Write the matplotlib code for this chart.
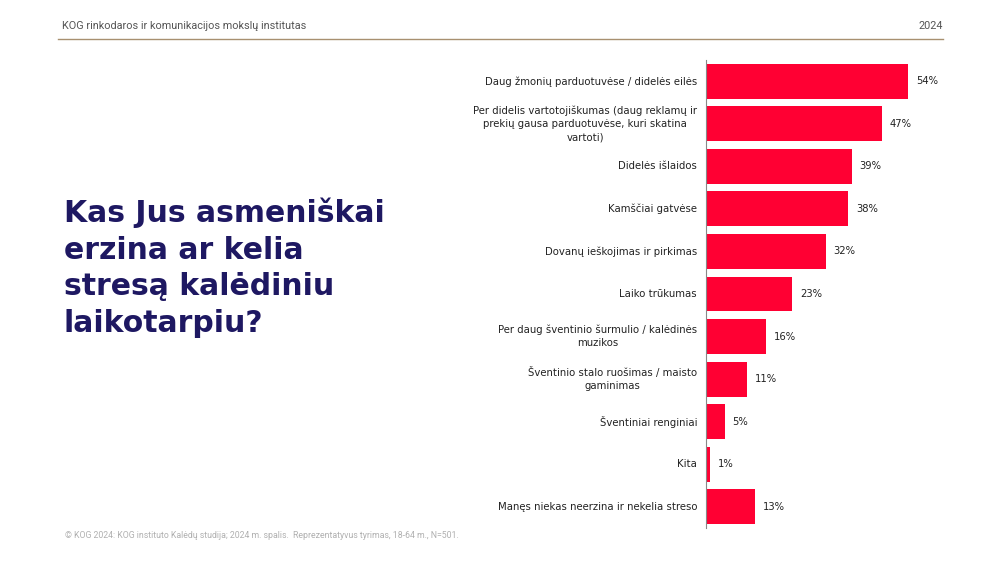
import matplotlib.pyplot as plt

categories = [
    "Daug žmonių parduotuvėse / didelės eilės",
    "Per didelis vartotojiškumas (daug reklamų ir\nprekių gausa parduotuvėse, kuri skatina\nvartoti)",
    "Didelės išlaidos",
    "Kamščiai gatvėse",
    "Dovanų ieškojimas ir pirkimas",
    "Laiko trūkumas",
    "Per daug šventinio šurmulio / kalėdinės\nmuzikos",
    "Šventinio stalo ruošimas / maisto\ngaminimas",
    "Šventiniai renginiai",
    "Kita",
    "Manęs niekas neerzina ir nekelia streso",
]
values = [54, 47, 39, 38, 32, 23, 16, 11, 5, 1, 13]

title = "Kas Jus asmeniškai\nerzina ar kelia\nstresą kalėdiniu\nlaikotarpiu?"
header_left = "KOG rinkodaros ir komunikacijos mokslų institutas"
header_right = "2024"
footnote = "© KOG 2024: KOG instituto Kalėdų studija; 2024 m. spalis.  Reprezentatyvus tyrimas, 18-64 m., N=501."

plt.rcParams['font.family'] = ['Roboto', 'DejaVu Sans']

fig = plt.figure(figsize=(10, 5.62), dpi=100)

# header
fig.text(0.062, 1 - 26 / 562, header_left, fontsize=7.8, color='#555555', va='center')
fig.text(0.943, 1 - 26 / 562, header_right, fontsize=7.8, color='#555555', va='center', ha='right')
fig.add_artist(plt.Line2D([0.058, 0.943], [1 - 39 / 562] * 2, color='#a89070', lw=1.0))

# title (baseline of last line)
fig.text(0.064, 1 - 332 / 562, title, fontsize=21.5, fontweight='bold', color='#1e1862',
         va='baseline', ha='left', linespacing=1.33, family='DejaVu Sans')

# footnote
fig.text(0.065, 1 - 535 / 562, footnote, fontsize=6.3, color='#b0b0b0', va='center')

ax = fig.add_axes([0.706, 1 - 528 / 562, 0.237, 468 / 562])
y = list(range(len(values)))
ax.barh(y, values, height=0.82, color='#ff0033')
ax.set_ylim(len(values) - 0.5, -0.5)
ax.set_xlim(0, 63.4)

for yi, v, c in zip(y, values, categories):
    ax.text(v + 2.1, yi, f"{v}%", va='center', ha='left', fontsize=7.2, color='#222222',
            family='DejaVu Sans')
    ax.text(-2.4, yi, c, va='center', ha='right', multialignment='center',
            fontsize=7.3, color='#222222', linespacing=1.4, family='DejaVu Sans')

for s in ['top', 'right', 'bottom']:
    ax.spines[s].set_visible(False)
ax.spines['left'].set_color('#888888')
ax.spines['left'].set_linewidth(0.8)
ax.set_xticks([])
ax.set_yticks([])

fig.savefig('out.png', dpi=100)
